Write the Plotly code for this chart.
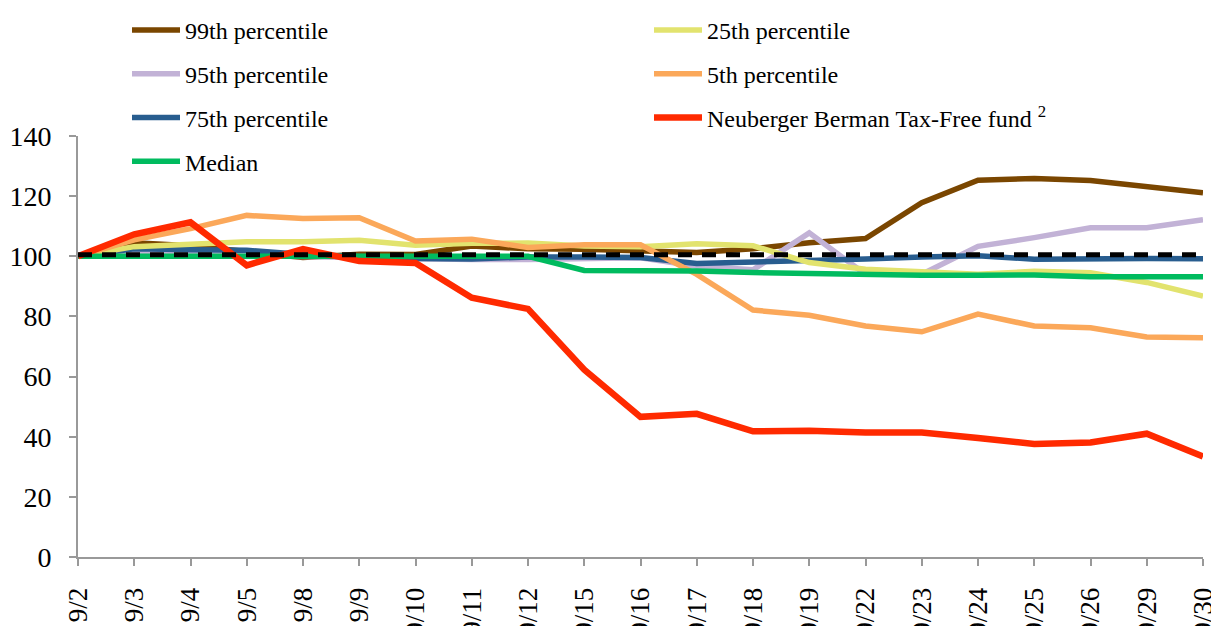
import plotly.graph_objects as go

dates = ["9/2", "9/3", "9/4", "9/5", "9/8", "9/9", "9/10", "9/11", "9/12", "9/15",
         "9/16", "9/17", "9/18", "9/19", "9/22", "9/23", "9/24", "9/25", "9/26",
         "9/29", "9/30"]

p99 = [100, 104.5, 103.5, 101.5, 99.6, 100.7, 100.6, 103.4, 102.5, 102.3, 101.8,
       101.3, 102.5, 104.5, 105.9, 117.8, 125.3, 125.9, 125.2, 123.3, 121.1]
p25 = [100, 103.2, 104.0, 104.8, 104.8, 105.3, 103.7, 104.3, 104.4, 103.4, 103.2,
       104.2, 103.5, 97.9, 95.7, 94.8, 94.0, 95.0, 94.5, 91.3, 86.8]
p95 = [100, 101.0, 100.6, 100.4, 99.9, 99.5, 99.0, 98.9, 98.9, 99.4, 99.5,
       96.7, 95.5, 107.8, 94.0, 94.0, 103.3, 106.2, 109.5, 109.5, 112.2]
p5 = [100, 105.5, 109.2, 113.6, 112.6, 112.8, 105.1, 105.7, 102.9, 103.8, 103.8,
      94.0, 82.1, 80.4, 76.8, 74.9, 80.8, 76.8, 76.2, 73.2, 72.9]
p75 = [100, 102.5, 102.2, 102.0, 100.6, 99.8, 99.3, 99.1, 99.8, 99.8, 99.6,
       97.6, 98.0, 98.7, 99.1, 99.8, 100.2, 99.0, 99.3, 99.3, 99.2]
median = [100, 100, 100, 100, 100, 100, 100, 100, 100, 95.3, 95.3,
          95.1, 94.6, 94.2, 93.8, 93.7, 93.7, 93.8, 93.2, 93.2, 93.2]
nb_fund = [100, 107.3, 111.3, 97.0, 102.4, 98.4, 97.8, 86.2, 82.5, 62.3, 46.6,
           47.6, 41.8, 42.0, 41.4, 41.4, 39.6, 37.6, 38.1, 41.0, 33.4]
par = [100.5] * len(dates)

y_ticks = [0, 20, 40, 60, 80, 100, 120, 140]

FONT = "Liberation Serif"
W, H = 1211, 618  # page body keeps an 8px margin, so the figure sits at (8, 8)

# (name, values, colour, width, legend)
series = [
    ("99th percentile", p99, "#7a4600", 5.5, "legend"),
    ("95th percentile", p95, "#c2b2d6", 5.5, "legend"),
    ("75th percentile", p75, "#285d8f", 5.5, "legend"),
    ("25th percentile", p25, "#e2e36e", 5.5, "legend2"),
    ("5th percentile", p5, "#fba85a", 5.5, "legend2"),
    ("Median", median, "#00bb5f", 5.5, "legend"),
    ("Neuberger Berman Tax-Free fund <sup>2</sup>", nb_fund, "#ff2a00", 6.5, "legend2"),
]

fig = go.Figure()
for i, (name, vals, color, width, leg) in enumerate(series):
    fig.add_trace(go.Scatter(
        x=dates, y=vals, name=name, mode="lines",
        line={"color": color, "width": width},
        legend=leg, legendgroup=f"g{i}",
    ))

fig.add_trace(go.Scatter(
    x=dates, y=par, mode="lines", showlegend=False,
    line={"color": "black", "width": 5, "dash": "14px,10px"},
))

legend_style = dict(
    orientation="v", xref="container", yref="container",
    xanchor="left", yanchor="top",
    font={"family": FONT, "size": 24, "color": "black"},
    bgcolor="rgba(0,0,0,0)", itemwidth=48,
    traceorder="grouped", tracegroupgap=9.5,
)

fig.update_layout(
    width=W, height=H,
    margin={"l": 70, "r": 16, "t": 128, "b": 69, "autoexpand": False},
    paper_bgcolor="white", plot_bgcolor="white",
    font={"family": FONT, "size": 26, "color": "black"},
    legend=dict(legend_style, x=119 / W, y=1 + 11 / H),
    legend2=dict(legend_style, x=641 / W, y=1 + 11 / H),
    xaxis=dict(
        type="category", range=[0, len(dates) - 1],
        tickmode="array", tickvals=dates, ticktext=dates,
        showline=True, linecolor="#999999", linewidth=2,
        ticks="outside", ticklen=7, tickwidth=1.5, tickcolor="#999999",
        tickangle=-90, tickfont={"family": FONT, "size": 27},
        ticklabelstandoff=11,
        showgrid=False, zeroline=False, automargin=False,
    ),
    yaxis=dict(
        range=[0, 140], tickvals=y_ticks,
        showline=True, linecolor="#999999", linewidth=2,
        ticks="outside", ticklen=7, tickwidth=1.5, tickcolor="#999999",
        tickfont={"family": FONT, "size": 28}, ticklabelstandoff=12,
        showgrid=False, zeroline=False, automargin=False,
    ),
)

fig.write_html("out.html")
